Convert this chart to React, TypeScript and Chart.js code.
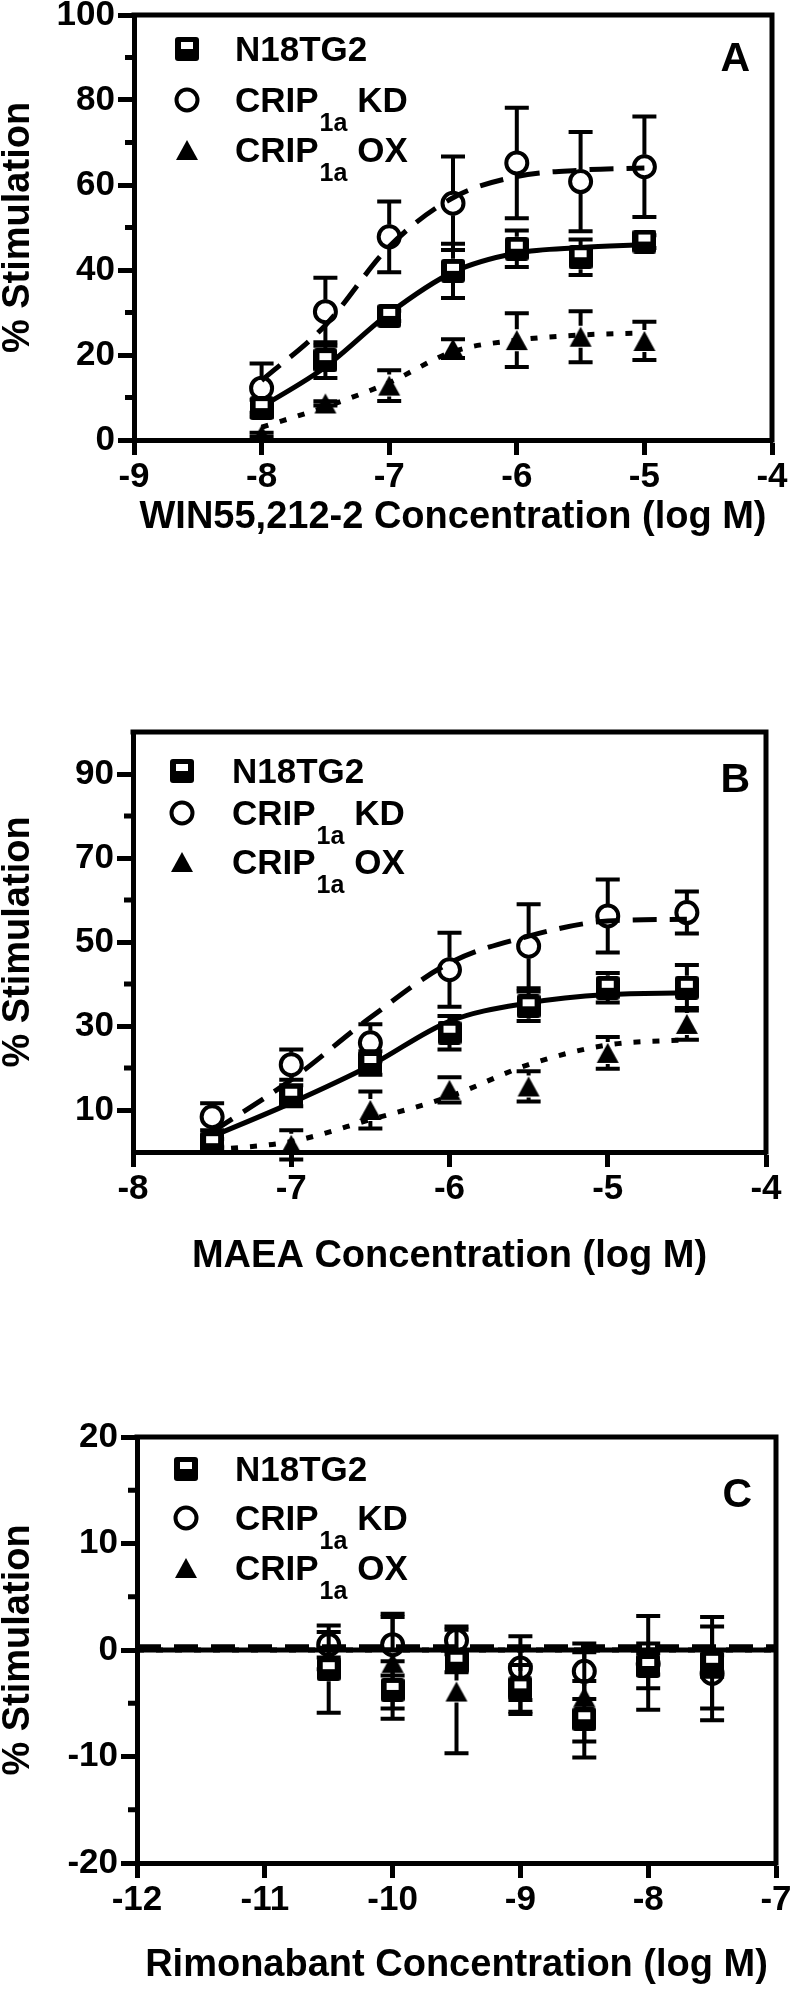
import React, { useEffect, useRef } from "react";
import { Chart, registerables } from "chart.js";

Chart.register(...registerables);

const FONT_FAMILY = "'Liberation Sans', Arial, Helvetica, sans-serif";
Chart.defaults.font.family = FONT_FAMILY;

// ---------------- Panel A : WIN55,212-2 ----------------
const xA = [-8, -7.5, -7, -6.5, -6, -5.5, -5];
const n18A = [7.5, 18.8, 29.2, 39.8, 45, 43, 46.7];
const n18AErr = [2, 4.2, 1.2, 6.4, 4.3, 4.2, 1.5];
const kdA = [12.2, 30.2, 47.8, 55.7, 65.2, 60.8, 64.3];
const kdAErr = [5.8, 8, 8.3, 11, 13, 11.7, 11.8];
const oxA = [1.2, 8.6, 12.8, 21.5, 23.5, 24.3, 23.3];
const oxAErr = [0.5, 0.5, 3.6, 2.2, 6.3, 6, 4.5];
const fitXA = [-8, -7.5, -7, -6.5, -6, -5.5, -5];
const n18AFit = [7.8, 17.2, 29.8, 39.5, 44, 45.3, 46];
const kdAFit = [14, 27, 45.5, 57, 62, 63.5, 64];
const oxAFit = [3, 7.8, 13.5, 20.8, 23.5, 24.7, 25.2];
const xTicksA = [-9, -8, -7, -6, -5, -4];
const yTicksA = [0, 20, 40, 60, 80, 100];
const yMinorA = [10, 30, 50, 70, 90];

// ---------------- Panel B : MAEA ----------------
const xB = [-7.5, -7, -6.5, -6, -5.5, -5, -4.5];
const n18B = [2.1, 13.4, 21.2, 28.4, 34.7, 39.1, 39.1];
const n18BErr = [1, 2.5, 2.8, 4, 3.5, 3.5, 5.4];
const kdB = [8.4, 20.8, 26, 43.4, 49, 56.2, 57];
const kdBErr = [3.2, 3.6, 4.4, 8.8, 10, 8.7, 5];
const oxB = [0.8, 1.7, 10, 14.8, 15.6, 23.6, 30.5];
const oxBErr = [0.5, 3.5, 4.4, 3, 3.6, 3.8, 3.8];
const fitXB = [-7.5, -7, -6.5, -6, -5.5, -5, -4.5];
const n18BFit = [3.7, 11.7, 20.6, 31.1, 35.5, 37.5, 37.9];
const kdBFit = [4.8, 17.2, 32, 45, 51.4, 55, 55.4];
const oxBFit = [0.5, 2.5, 7.7, 13.2, 20.8, 25.5, 26.7];
const xTicksB = [-8, -7, -6, -5, -4];
const yTicksB = [10, 30, 50, 70, 90];
const yMinorB = [20, 40, 60, 80];

// ---------------- Panel C : Rimonabant ----------------
const xC = [-10.5, -10, -9.5, -9, -8.5, -8, -7.5];
const n18C = [-1.8, -3.75, -1.1, -3.6, -6.5, -1.5, -1.2];
const n18CErr = [4.1, 2.7, 1, 2.2, 3.6, 2.1, 4.3];
const kdC = [0.5, 0.5, 0.9, -1.7, -2.0, -1.3, -2.2];
const kdCErr = [1.2, 2.9, 1.3, 3, 2.6, 1, 4.4];
const oxC = [-0.8, -1.2, -3.9, -3.0, -4.4, -1.2, -1.5];
const oxCErr = [1, 4.3, 5.8, 3, 4.2, 4.4, 1];
const fitXC = [-12, -7];
const n18CFit = [0, 0];
const kdCFit = [0.3, 0.3];
const oxCFit = [0, 0];
const xTicksC = [-12, -11, -10, -9, -8, -7];
const yTicksC = [-20, -10, 0, 10, 20];
const yMinorC = [-15, -5, 5, 15];

// ---------------- Text ----------------
const seriesNames = ["N18TG2", "CRIP|1a| KD", "CRIP|1a| OX"];
const yTitle = "% Stimulation";
const xTitles = [
  "WIN55,212-2 Concentration (log M)",
  "MAEA Concentration (log M)",
  "Rimonabant Concentration (log M)",
];
const panelLetters = ["A", "B", "C"];

const TICK_SIZE = 35;
const TITLE_SIZE = 38;

type Panel = {
  top: number;
  height: number;
  left: number;
  right: number;
  areaTop: number;
  areaBottom: number;
  titlePad: number;
  xMin: number;
  xMax: number;
  yMin: number;
  yMax: number;
  xTicks: number[];
  yTicks: number[];
  yMinor: number[];
  x: number[];
  n18: number[];
  n18Err: number[];
  kd: number[];
  kdErr: number[];
  ox: number[];
  oxErr: number[];
  fitX: number[];
  n18Fit: number[];
  kdFit: number[];
  oxFit: number[];
  xTitle: string;
  letter: string;
  letterDX: number;
  letterDY: number;
  legendRows: number[];
  legendMX: number;
  legendTX: number;
};

const panels: Panel[] = [
  {
    top: 0, height: 600, left: 134, right: 772, areaTop: 15, areaBottom: 440, titlePad: 60,
    xMin: -9, xMax: -4, yMin: 0, yMax: 100,
    xTicks: xTicksA, yTicks: yTicksA, yMinor: yMinorA,
    x: xA, n18: n18A, n18Err: n18AErr, kd: kdA, kdErr: kdAErr, ox: oxA, oxErr: oxAErr,
    fitX: fitXA, n18Fit: n18AFit, kdFit: kdAFit, oxFit: oxAFit,
    xTitle: xTitles[0], letter: panelLetters[0], letterDX: 22, letterDY: 56,
    legendRows: [34, 85, 135], legendMX: 53, legendTX: 101,
  },
  {
    top: 600, height: 700, left: 133, right: 766, areaTop: 132, areaBottom: 552, titlePad: 21,
    xMin: -8, xMax: -4, yMin: 0, yMax: 100,
    xTicks: xTicksB, yTicks: yTicksB, yMinor: yMinorB,
    x: xB, n18: n18B, n18Err: n18BErr, kd: kdB, kdErr: kdBErr, ox: oxB, oxErr: oxBErr,
    fitX: fitXB, n18Fit: n18BFit, kdFit: kdBFit, oxFit: oxBFit,
    xTitle: xTitles[1], letter: panelLetters[1], letterDX: 16, letterDY: 60,
    legendRows: [39, 81, 130], legendMX: 49, legendTX: 99,
  },
  {
    top: 1300, height: 692, left: 137, right: 776, areaTop: 137, areaBottom: 563, titlePad: 4,
    xMin: -12, xMax: -7, yMin: -20, yMax: 20,
    xTicks: xTicksC, yTicks: yTicksC, yMinor: yMinorC,
    x: xC, n18: n18C, n18Err: n18CErr, kd: kdC, kdErr: kdCErr, ox: oxC, oxErr: oxCErr,
    fitX: fitXC, n18Fit: n18CFit, kdFit: kdCFit, oxFit: oxCFit,
    xTitle: xTitles[2], letter: panelLetters[2], letterDX: 24, letterDY: 70,
    legendRows: [32, 81, 131], legendMX: 49, legendTX: 98,
  },
];

function makeSquare(): HTMLCanvasElement {
  const c = document.createElement("canvas");
  c.width = 24;
  c.height = 24;
  const g = c.getContext("2d")!;
  g.fillStyle = "#000";
  g.beginPath();
  const r = 3;
  g.moveTo(r, 0);
  g.lineTo(24 - r, 0);
  g.quadraticCurveTo(24, 0, 24, r);
  g.lineTo(24, 24 - r);
  g.quadraticCurveTo(24, 24, 24 - r, 24);
  g.lineTo(r, 24);
  g.quadraticCurveTo(0, 24, 0, 24 - r);
  g.lineTo(0, r);
  g.quadraticCurveTo(0, 0, r, 0);
  g.closePath();
  g.fill();
  g.fillStyle = "#fff";
  g.fillRect(6, 5, 12, 7);
  return c;
}

function makeTriangle(): HTMLCanvasElement {
  const c = document.createElement("canvas");
  c.width = 24;
  c.height = 22;
  const g = c.getContext("2d")!;
  g.fillStyle = "#000";
  g.beginPath();
  g.moveTo(12, 1);
  g.lineTo(23, 21);
  g.lineTo(1, 21);
  g.closePath();
  g.fill();
  return c;
}

const pts = (xs: number[], ys: number[]) => xs.map((x, i) => ({ x, y: ys[i] }));

function buildConfig(p: Panel, square: HTMLCanvasElement, tri: HTMLCanvasElement): any {
  const fitBase = {
    type: "line",
    borderColor: "#000",
    borderWidth: 5,
    pointRadius: 0,
    cubicInterpolationMode: "monotone",
    fill: false,
    borderCapStyle: "butt",
  };
  const datasets: any[] = [
    {
      type: "scatter", label: "N18TG2", data: pts(p.x, p.n18), errors: p.n18Err, half: 12,
      pointStyle: square, pointRadius: 12,
    },
    {
      type: "scatter", label: "KD", data: pts(p.x, p.kd), errors: p.kdErr, half: 12,
      pointStyle: "circle", pointRadius: 10.5, pointBorderWidth: 4,
      pointBorderColor: "#000", pointBackgroundColor: "rgba(0,0,0,0)",
    },
    {
      type: "scatter", label: "OX", data: pts(p.x, p.ox), errors: p.oxErr, half: 11,
      pointStyle: tri, pointRadius: 12,
    },
    { ...fitBase, data: pts(p.fitX, p.n18Fit), borderDash: [] },
    { ...fitBase, data: pts(p.fitX, p.kdFit), borderDash: [24, 13] },
    { ...fitBase, data: pts(p.fitX, p.oxFit), borderDash: [7, 12] },
  ];

  const decor = {
    id: "decor",
    beforeDatasetsDraw(chart: any) {
      const ctx = chart.ctx;
      const ys = chart.scales.y;
      ctx.save();
      ctx.strokeStyle = "#000";
      ctx.lineWidth = 4;
      ctx.lineCap = "butt";
      chart.data.datasets.forEach((ds: any, di: number) => {
        if (!ds.errors) return;
        const meta = chart.getDatasetMeta(di);
        ds.data.forEach((pt: any, i: number) => {
          const el = meta.data[i];
          const px = el.x;
          const py = el.y;
          const e = ds.errors[i];
          const pTop = ys.getPixelForValue(pt.y + e);
          const pBot = ys.getPixelForValue(pt.y - e);
          const h = ds.half;
          ctx.beginPath();
          if (py - pTop > h) {
            ctx.moveTo(px, py - h);
            ctx.lineTo(px, pTop);
          }
          if (pBot - py > h) {
            ctx.moveTo(px, py + h);
            ctx.lineTo(px, pBot);
          }
          ctx.moveTo(px - 12, pTop);
          ctx.lineTo(px + 12, pTop);
          ctx.moveTo(px - 12, pBot);
          ctx.lineTo(px + 12, pBot);
          ctx.stroke();
        });
      });
      ctx.restore();
    },
    afterDraw(chart: any) {
      const ctx = chart.ctx;
      const a = chart.chartArea;
      const ys = chart.scales.y;
      ctx.save();
      // frame top & right
      ctx.strokeStyle = "#000";
      ctx.lineWidth = 5;
      ctx.lineJoin = "miter";
      ctx.beginPath();
      ctx.moveTo(a.left - 2.5, a.top);
      ctx.lineTo(a.right, a.top);
      ctx.lineTo(a.right, a.bottom + 2.5);
      ctx.stroke();
      // minor ticks
      ctx.beginPath();
      p.yMinor.forEach((v) => {
        const py = ys.getPixelForValue(v);
        ctx.moveTo(a.left - 9, py);
        ctx.lineTo(a.left, py);
      });
      ctx.stroke();
      // panel letter
      ctx.fillStyle = "#000";
      ctx.font = `bold 41px ${FONT_FAMILY}`;
      ctx.textAlign = "right";
      ctx.textBaseline = "alphabetic";
      ctx.fillText(p.letter, a.right - p.letterDX, a.top + p.letterDY);
      // legend
      const mx = a.left + p.legendMX;
      const tx = a.left + p.legendTX;
      const r0 = a.top + p.legendRows[0];
      const r1 = a.top + p.legendRows[1];
      const r2 = a.top + p.legendRows[2];
      ctx.drawImage(square, mx - square.width / 2, r0 - square.height / 2);
      ctx.beginPath();
      ctx.lineWidth = 4;
      ctx.arc(mx, r1, 10.5, 0, Math.PI * 2);
      ctx.stroke();
      ctx.drawImage(tri, mx - tri.width / 2, r2 - tri.height / 2);
      ctx.textAlign = "left";
      const rows = [r0, r1, r2];
      seriesNames.forEach((name, i) => {
        const parts = name.split("|");
        const base = rows[i] + 12;
        let x = tx;
        ctx.font = `bold 35px ${FONT_FAMILY}`;
        ctx.fillText(parts[0], x, base);
        x += ctx.measureText(parts[0]).width;
        if (parts.length > 1) {
          ctx.font = `bold 25px ${FONT_FAMILY}`;
          ctx.fillText(parts[1], x + 1, base + 19);
          x += ctx.measureText(parts[1]).width + 1;
          ctx.font = `bold 35px ${FONT_FAMILY}`;
          ctx.fillText(parts[2], x, base);
        }
      });
      ctx.restore();
    },
  };

  return {
    type: "scatter",
    data: { datasets },
    options: {
      responsive: false,
      animation: false,
      devicePixelRatio: 1,
      layout: {
        padding: { top: p.areaTop, left: 0, right: 799 - p.right, bottom: 0 },
      },
      plugins: {
        legend: { display: false },
        tooltip: { enabled: false },
        title: { display: false },
      },
      scales: {
        x: {
          type: "linear",
          position: "bottom",
          min: p.xMin,
          max: p.xMax,
          afterBuildTicks: (s: any) => {
            s.ticks = p.xTicks.map((v) => ({ value: v }));
          },
          afterFit: (s: any) => {
            s.height = p.height - p.areaBottom;
            s.paddingLeft = 0;
            s.paddingRight = 0;
          },
          grid: {
            display: true,
            drawOnChartArea: false,
            drawTicks: true,
            tickLength: 15,
            tickWidth: 5,
            tickColor: "#000",
            color: "#000",
          },
          border: { display: true, width: 5, color: "#000" },
          ticks: {
            autoSkip: false,
            maxRotation: 0,
            padding: 1,
            color: "#000",
            font: { size: TICK_SIZE, weight: "bold" },
            callback: (v: any) => String(v),
          },
          title: {
            display: true,
            text: p.xTitle,
            color: "#000",
            font: { size: TITLE_SIZE, weight: "bold" },
            padding: { top: 0, bottom: p.titlePad },
          },
        },
        y: {
          type: "linear",
          position: "left",
          min: p.yMin,
          max: p.yMax,
          afterBuildTicks: (s: any) => {
            s.ticks = p.yTicks.map((v) => ({ value: v }));
          },
          afterFit: (s: any) => {
            s.width = p.left;
            s.paddingTop = 0;
            s.paddingBottom = 0;
          },
          grid: {
            display: true,
            drawOnChartArea: false,
            drawTicks: true,
            tickLength: 16,
            tickWidth: 5,
            tickColor: "#000",
            color: "#000",
          },
          border: { display: true, width: 5, color: "#000" },
          ticks: {
            autoSkip: false,
            padding: 3,
            color: "#000",
            font: { size: TICK_SIZE, weight: "bold" },
            callback: (v: any) => String(v),
          },
          title: {
            display: true,
            text: yTitle,
            color: "#000",
            font: { size: TITLE_SIZE, weight: "bold" },
            padding: { top: -4, bottom: 0 },
          },
        },
      },
    },
    plugins: [decor],
  };
}

function PanelChart({ p }: { p: Panel }) {
  const ref = useRef<HTMLCanvasElement>(null);
  useEffect(() => {
    const canvas = ref.current!;
    const chart = new Chart(canvas, buildConfig(p, makeSquare(), makeTriangle()));
    return () => chart.destroy();
  }, [p]);
  return (
    <canvas
      ref={ref}
      width={799}
      height={p.height}
      style={{ position: "absolute", left: 0, top: p.top, width: 799, height: p.height, display: "block" }}
    />
  );
}

export default function App() {
  return (
    <div style={{ position: "absolute", left: 0, top: 0, width: 799, height: 1992, background: "#fff" }}>
      {panels.map((p, i) => (
        <PanelChart key={i} p={p} />
      ))}
    </div>
  );
}
